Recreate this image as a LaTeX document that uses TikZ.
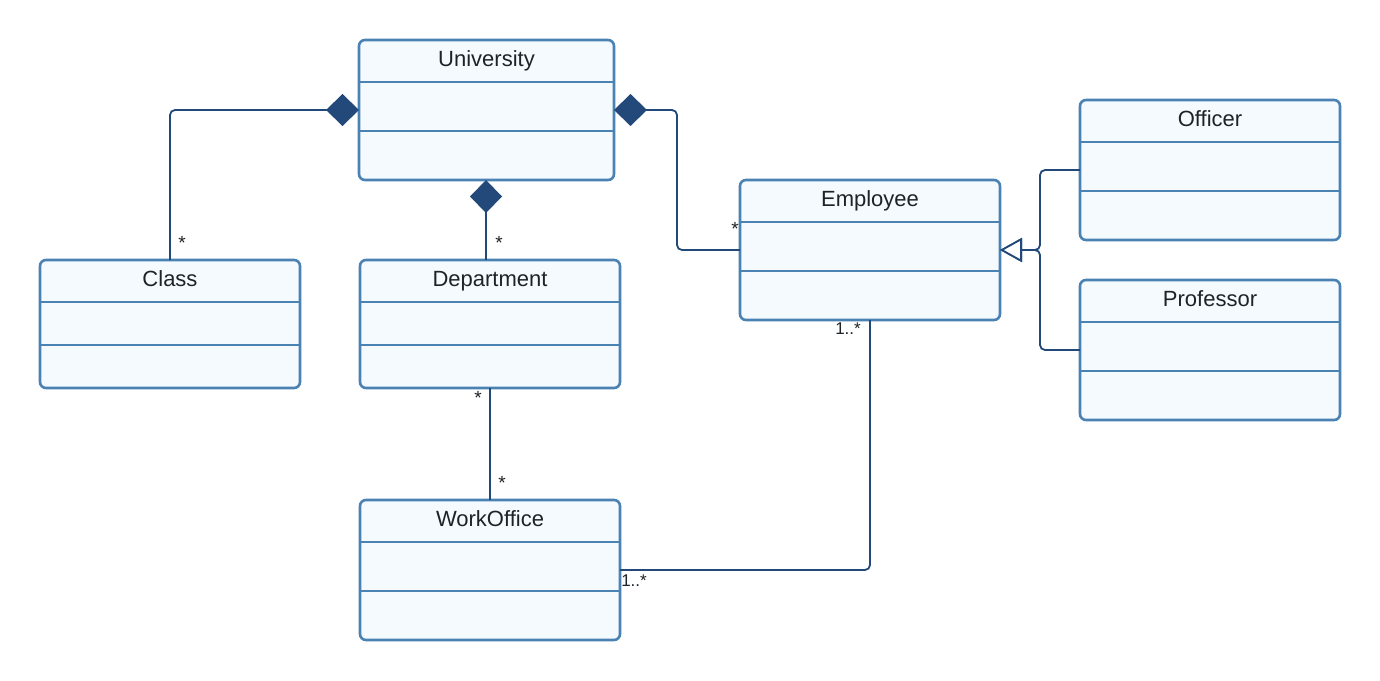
\documentclass[tikz,border=0pt]{standalone}
\usepackage{fontspec}
\setmainfont{Liberation Sans}
\usetikzlibrary{arrows.meta}
\definecolor{bordc}{HTML}{4A82B4}
\definecolor{fillc}{HTML}{F5FAFF}
\definecolor{linec}{HTML}{22497A}
\definecolor{textc}{HTML}{1E2328}
\tikzset{
  umlbox/.style={draw=bordc, fill=fillc, line width=2.6pt, rounded corners=6pt, inner sep=0pt, outer sep=0pt, anchor=north west},
  divline/.style={draw=bordc, line width=2.6pt},
  umltitle/.style={text=textc, font=\fontsize{22}{26}\selectfont, inner sep=0pt, text height=15.75pt, text depth=0pt},
  conn/.style={draw=linec, line width=1.8pt, rounded corners=5pt},
  comp/.style={{Diamond[length=33pt,width=32pt,fill=linec]}-},
  gen/.style={-{Triangle[length=22pt,width=24pt,fill=white,line width=1.8pt]}},
  mult/.style={text=textc, font=\fontsize{19}{22}\selectfont, inner sep=0pt},
  mults/.style={text=textc, font=\fontsize{17}{20}\selectfont, inner sep=0pt},
}
% name, left, top, right, bottom, div1, div2, title
\newcommand\umlcls[8]{%
  \node[umlbox, minimum width={(#4-#2)*1pt}, minimum height={(#5-#3)*1pt}] (#1) at (#2,#3) {};
  \draw[divline] (#2,#6) -- (#4,#6);
  \draw[divline] (#2,#7) -- (#4,#7);
  \node[umltitle] (#1t) at ({(#2+#4)/2},{#3+18.5}) {#8};
}
\begin{document}
\begin{tikzpicture}[x=1pt,y=-1pt]
\useasboundingbox[fill=white] (0,0) rectangle (1380,680);
\umlcls{uni}{359}{40}{614}{180}{82}{131}{University}
\umlcls{cls}{40}{260}{300}{388}{302}{345}{Class}
\umlcls{dep}{360}{260}{620}{388}{302}{345}{Department}
\umlcls{emp}{740}{180}{1000}{320}{222}{271}{Employee}
\umlcls{off}{1080}{100}{1340}{240}{142}{191}{Officer}
\umlcls{prof}{1080}{280}{1340}{420}{322}{371}{Professor}
\umlcls{wo}{360}{500}{620}{640}{542}{591}{WorkOffice}
\coordinate (unib) at (486,180);

\draw[conn, comp] (uni.west) -| (cls.north);
\draw[conn, comp] (unib) -- (unib |- dep.north);
\draw[conn, comp] (uni.east) -- ++(63,0) |- (emp.west);
\draw[conn] (dep.south) -- (wo.north);
\draw[conn] (emp.south) |- (wo.east);
\draw[conn, gen] (off.west) -- ++(-40,0) |- (emp.east);
\draw[conn, gen] (prof.west) -- ++(-40,0) |- (emp.east);

\node[mult] (m1) at (182,243) {*};
\node[mult] (m2) at (499,243) {*};
\node[mult] (m3) at (735,229) {*};
\node[mult] (m4) at (478,398) {*};
\node[mult] (m5) at (502,483) {*};
\node[mults] (m6) at (848,329) {1..*};
\node[mults] (m7) at (634,581) {1..*};
\end{tikzpicture}
\end{document}
